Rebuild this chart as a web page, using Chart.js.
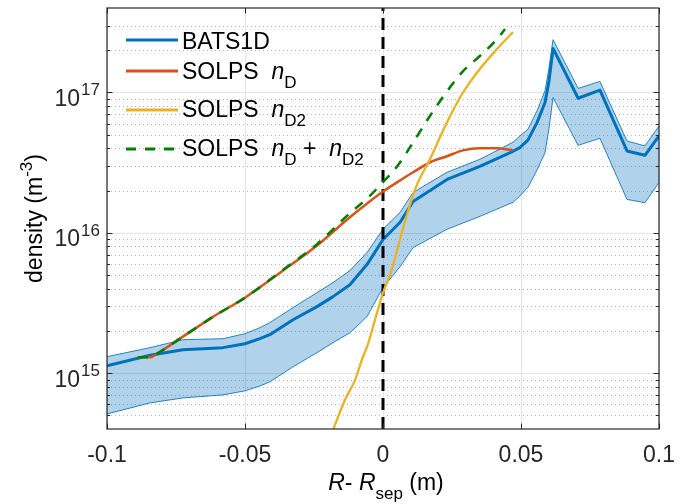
<!DOCTYPE html>
<html><head><meta charset="utf-8">
<script src="https://cdn.jsdelivr.net/npm/chart.js@4/dist/chart.umd.min.js"></script>
<style>html,body{margin:0;padding:0;background:#fff;}</style>
</head><body>
<canvas id="c" width="686" height="504"></canvas>
<script>
// ---------- data ----------
const batsX = [-0.1, -0.0844, -0.0725, -0.058, -0.05, -0.0446, -0.041, -0.0326, -0.0239, -0.0181, -0.012, -0.0058, 0, 0.0062, 0.0109, 0.0232, 0.0351, 0.0471, 0.0496, 0.0525, 0.0558, 0.0587, 0.0601, 0.0616, 0.0707, 0.0786, 0.0884, 0.0949, 0.1];
const batsMean = [1.13e15, 1.34e15, 1.47e15, 1.52e15, 1.62e15, 1.76e15, 1.88e15, 2.4e15, 2.98e15, 3.51e15, 4.27e15, 5.94e15, 8.96e15, 1.19e16, 1.67e16, 2.40e16, 2.98e16, 3.81e16, 4.05e16, 4.58e16, 6.1e16, 8.48e16, 1.19e17, 2.06e17, 9.1e16, 1.04e17, 3.83e16, 3.57e16, 4.9e16];
const batsUpper = [1.31e15, 1.52e15, 1.73e15, 1.76e15, 1.91e15, 2.11e15, 2.29e15, 2.93e15, 3.75e15, 4.42e15, 5.38e15, 7.23e15, 1.06e16, 1.40e16, 1.94e16, 2.70e16, 3.34e16, 4.42e16, 4.9e16, 5.47e16, 7.4e16, 1.03e17, 1.47e17, 2.38e17, 1.07e17, 1.2e17, 4.51e16, 4.16e16, 5.77e16];
const batsLower = [5.12e14, 6.14e14, 6.66e14, 7.0e14, 7.48e14, 8.1e14, 8.67e14, 1.11e15, 1.40e15, 1.65e15, 1.94e15, 2.53e15, 4.07e15, 5.74e15, 7.85e15, 1.06e16, 1.31e16, 1.65e16, 1.83e16, 2.11e16, 2.8e16, 3.73e16, 5.47e16, 9.2e16, 4.2e16, 4.72e16, 1.73e16, 1.64e16, 2.28e16];

const solpsDX = [-0.0888, -0.0844, -0.0808, -0.0725, -0.0616, -0.05, -0.0362, -0.0239, -0.012, 0, 0.0051, 0.0109, 0.017, 0.0232, 0.029, 0.0351, 0.0413, 0.0471];
const solpsD = [1.30e15, 1.30e15, 1.42e15, 1.82e15, 2.52e15, 3.45e15, 5.38e15, 8.11e15, 1.29e16, 1.97e16, 2.29e16, 2.70e16, 3.18e16, 3.51e16, 3.87e16, 4.0e16, 4.0e16, 3.87e16];

const solpsD2X = [-0.0183, -0.0138, -0.0101, -0.0077, -0.0053, -0.0029, 0, 0.0032, 0.0068, 0.0104, 0.0122, 0.017, 0.0232, 0.029, 0.0351, 0.0413, 0.046, 0.0471];
const solpsD2 = [3.85e14, 6.44e14, 8.96e14, 1.24e15, 1.64e15, 2.40e15, 3.73e15, 5.47e15, 1.0e16, 1.73e16, 2.18e16, 3.34e16, 6.14e16, 1.0e17, 1.47e17, 2.04e17, 2.56e17, 2.69e17];

const solpsSumX = [-0.0888, -0.0844, -0.0808, -0.0725, -0.0616, -0.05, -0.0362, -0.0239, -0.012, -0.0058, 0, 0.0051, 0.0109, 0.017, 0.0232, 0.029, 0.0351, 0.0413, 0.0442];
const solpsSum = [1.30e15, 1.30e15, 1.42e15, 1.82e15, 2.52e15, 3.45e15, 5.45e15, 8.3e15, 1.38e16, 1.75e16, 2.3e16, 2.97e16, 4.4e16, 6.8e16, 1.02e17, 1.42e17, 1.82e17, 2.4e17, 2.83e17];

const sepX = [0, 0];
const sepY = [4e14, 4e17];

const xTicks = [-0.1, -0.05, 0, 0.05, 0.1];
const xTickLabels = ['-0.1', '-0.05', '0', '0.05', '0.1'];
const yDecadeExp = [15, 16, 17];
const yMinorMult = [2, 3, 4, 5, 6, 7, 8, 9];
const yRange = [4e14, 4e17];
const xRange = [-0.1, 0.1];

const legendLabels = [
  [{t: 'BATS1D'}],
  [{t: 'SOLPS  '}, {t: 'n', it: true}, {t: 'D', sub: true}],
  [{t: 'SOLPS  '}, {t: 'n', it: true}, {t: 'D2', sub: true}],
  [{t: 'SOLPS  '}, {t: 'n', it: true}, {t: 'D', sub: true}, {t: ' +  '}, {t: 'n', it: true}, {t: 'D2', sub: true}]
];
const xTitle = [{t: 'R', it: true}, {t: '- '}, {t: 'R', it: true}, {t: 'sep', sub: true}, {t: ' (m)'}];
const yTitle = [{t: 'density (m'}, {t: '-3', sup: true}, {t: ')'}];

// ---------- helpers ----------
const pts = (xs, ys) => xs.map((x, i) => ({x: x, y: ys[i]}));
const FONT = '"Liberation Sans", Arial, Helvetica, sans-serif';
const BIG = 23, SMALL = 17;
function fnt(r) { return (r.it ? 'italic ' : '') + ((r.sub || r.sup) ? SMALL : BIG) + 'px ' + FONT; }
function runsWidth(ctx, runs) { let w = 0; for (const r of runs) { ctx.font = fnt(r); w += ctx.measureText(r.t).width; } return w; }
function drawRuns(ctx, runs, x, y) {
  let cx = x;
  for (const r of runs) {
    ctx.font = fnt(r);
    const dy = r.sub ? 9 : (r.sup ? -10 : 0);
    ctx.fillText(r.t, cx, y + dy);
    cx += ctx.measureText(r.t).width;
  }
  return cx;
}

const BLUE = '#0072BD', ORANGE = '#D95319', YELLOW = '#EDB120', GREEN = '#008000';

const legendStyles = [
  {color: BLUE, width: 3, dash: []},
  {color: ORANGE, width: 3, dash: []},
  {color: YELLOW, width: 3, dash: []},
  {color: GREEN, width: 3, dash: [10, 9]}
];

const decor = {
  id: 'decor',
  beforeDatasetsDraw(chart) {
    const {ctx, chartArea: a, scales: {x, y}} = chart;
    ctx.save();
    ctx.lineWidth = 1;
    ctx.strokeStyle = 'rgba(0,0,0,0.28)';
    ctx.setLineDash([1, 3]);
    for (let e = 14; e <= 17; e++) {
      for (const m of yMinorMult) {
        const v = m * Math.pow(10, e);
        if (v <= yRange[0] || v >= yRange[1]) continue;
        const py = Math.round(y.getPixelForValue(v)) + 0.5;
        ctx.beginPath(); ctx.moveTo(a.left, py); ctx.lineTo(a.right, py); ctx.stroke();
      }
    }
    ctx.setLineDash([]);
    ctx.strokeStyle = '#e4e4e4';
    for (const e of yDecadeExp) {
      const py = Math.round(y.getPixelForValue(Math.pow(10, e))) + 0.5;
      ctx.beginPath(); ctx.moveTo(a.left, py); ctx.lineTo(a.right, py); ctx.stroke();
    }
    for (const t of xTicks) {
      const px = Math.round(x.getPixelForValue(t)) + 0.5;
      ctx.beginPath(); ctx.moveTo(px, a.top); ctx.lineTo(px, a.bottom); ctx.stroke();
    }
    ctx.restore();
  },
  afterDraw(chart) {
    const {ctx, chartArea: a, scales: {x, y}} = chart;
    ctx.save();
    ctx.strokeStyle = '#262626';
    ctx.lineWidth = 1.2;
    ctx.setLineDash([]);
    ctx.strokeRect(a.left, a.top, a.right - a.left, a.bottom - a.top);
    ctx.lineWidth = 1;
    for (const t of xTicks) {
      const px = Math.round(x.getPixelForValue(t)) + 0.5;
      ctx.beginPath(); ctx.moveTo(px, a.bottom); ctx.lineTo(px, a.bottom - 5.5);
      ctx.moveTo(px, a.top); ctx.lineTo(px, a.top + 5.5); ctx.stroke();
    }
    for (let e = 14; e <= 17; e++) {
      for (const m of [1].concat(yMinorMult)) {
        const v = m * Math.pow(10, e);
        if (v <= yRange[0] || v >= yRange[1]) continue;
        const L = m === 1 ? 5.5 : 3;
        const py = Math.round(y.getPixelForValue(v)) + 0.5;
        ctx.beginPath(); ctx.moveTo(a.left, py); ctx.lineTo(a.left + L, py);
        ctx.moveTo(a.right, py); ctx.lineTo(a.right - L, py); ctx.stroke();
      }
    }
    ctx.fillStyle = '#262626';
    ctx.textBaseline = 'alphabetic';
    ctx.textAlign = 'center';
    ctx.font = BIG + 'px ' + FONT;
    xTicks.forEach((t, i) => ctx.fillText(xTickLabels[i], x.getPixelForValue(t), a.bottom + 33));
    ctx.textAlign = 'left';
    for (const e of yDecadeExp) {
      const py = y.getPixelForValue(Math.pow(10, e));
      const runs = [{t: '10'}, {t: String(e), sup: true}];
      const w = runsWidth(ctx, runs);
      ctx.font = BIG + 'px ' + FONT;
      const w10 = ctx.measureText('10').width;
      ctx.fillText('10', 99 - w, py + 13.5);
      ctx.font = SMALL + 'px ' + FONT;
      ctx.fillText(String(e), 99 - w + w10 + 1, py + 3);
    }
    ctx.fillStyle = '#000';
    const xw = runsWidth(ctx, xTitle);
    drawRuns(ctx, xTitle, (a.left + a.right) / 2 + 3 - xw / 2, 490);
    ctx.save();
    ctx.translate(42, (a.top + a.bottom) / 2);
    ctx.rotate(-Math.PI / 2);
    const yw = runsWidth(ctx, yTitle);
    drawRuns(ctx, yTitle, -yw / 2, 0);
    ctx.restore();
    const rows = [40, 71, 110, 149];
    const textBase = [48.5, 78.5, 117, 155.5];
    legendLabels.forEach((runs, i) => {
      const s = legendStyles[i];
      ctx.strokeStyle = s.color; ctx.lineWidth = s.width; ctx.setLineDash(s.dash);
      ctx.beginPath(); ctx.moveTo(126, rows[i]); ctx.lineTo(178, rows[i]); ctx.stroke();
      ctx.setLineDash([]);
      ctx.fillStyle = '#000';
      drawRuns(ctx, runs, 182, textBase[i]);
    });
    ctx.restore();
  }
};

const smooth = {pointRadius: 0, cubicInterpolationMode: 'monotone', clip: 0};
const straight = {pointRadius: 0, tension: 0, clip: 0};

new Chart(document.getElementById('c'), {
  type: 'line',
  data: {
    datasets: [
      Object.assign({label: 'upper', data: pts(batsX, batsUpper), borderColor: 'rgba(0,114,189,0.85)', borderWidth: 1, fill: '+1', backgroundColor: 'rgba(0,114,189,0.31)', order: 10}, straight),
      Object.assign({label: 'lower', data: pts(batsX, batsLower), borderColor: 'rgba(0,114,189,0.85)', borderWidth: 1, fill: false, order: 9}, straight),
      Object.assign({label: 'BATS1D', data: pts(batsX, batsMean), borderColor: BLUE, borderWidth: 3, fill: false, order: 5, borderJoinStyle: 'round'}, straight),
      {label: 'sep', data: pts(sepX, sepY), borderColor: '#000', borderWidth: 3, borderDash: [12, 7], pointRadius: 0, fill: false, order: 4, clip: 0},
      Object.assign({label: 'SOLPS nD', data: pts(solpsDX, solpsD), borderColor: ORANGE, borderWidth: 2.5, fill: false, order: 3}, smooth),
      Object.assign({label: 'SOLPS nD2', data: pts(solpsD2X, solpsD2), borderColor: YELLOW, borderWidth: 2.3, fill: false, order: 2}, smooth),
      Object.assign({label: 'SOLPS nD + nD2', data: pts(solpsSumX, solpsSum), borderColor: GREEN, borderWidth: 2.5, borderDash: [10, 9], fill: false, order: 1}, smooth)
    ]
  },
  options: {
    responsive: false,
    animation: false,
    devicePixelRatio: 1,
    layout: {padding: {left: 0, right: 27, top: 8, bottom: 0}},
    plugins: {legend: {display: false}, tooltip: {enabled: false}},
    scales: {
      x: {type: 'linear', min: xRange[0], max: xRange[1], ticks: {display: false}, grid: {display: false}, border: {display: false},
          afterFit: s => { s.height = 75; }},
      y: {type: 'logarithmic', min: yRange[0], max: yRange[1], ticks: {display: false}, grid: {display: false}, border: {display: false},
          afterFit: s => { s.width = 107; }}
    }
  },
  plugins: [decor]
});
</script>
</body></html>
